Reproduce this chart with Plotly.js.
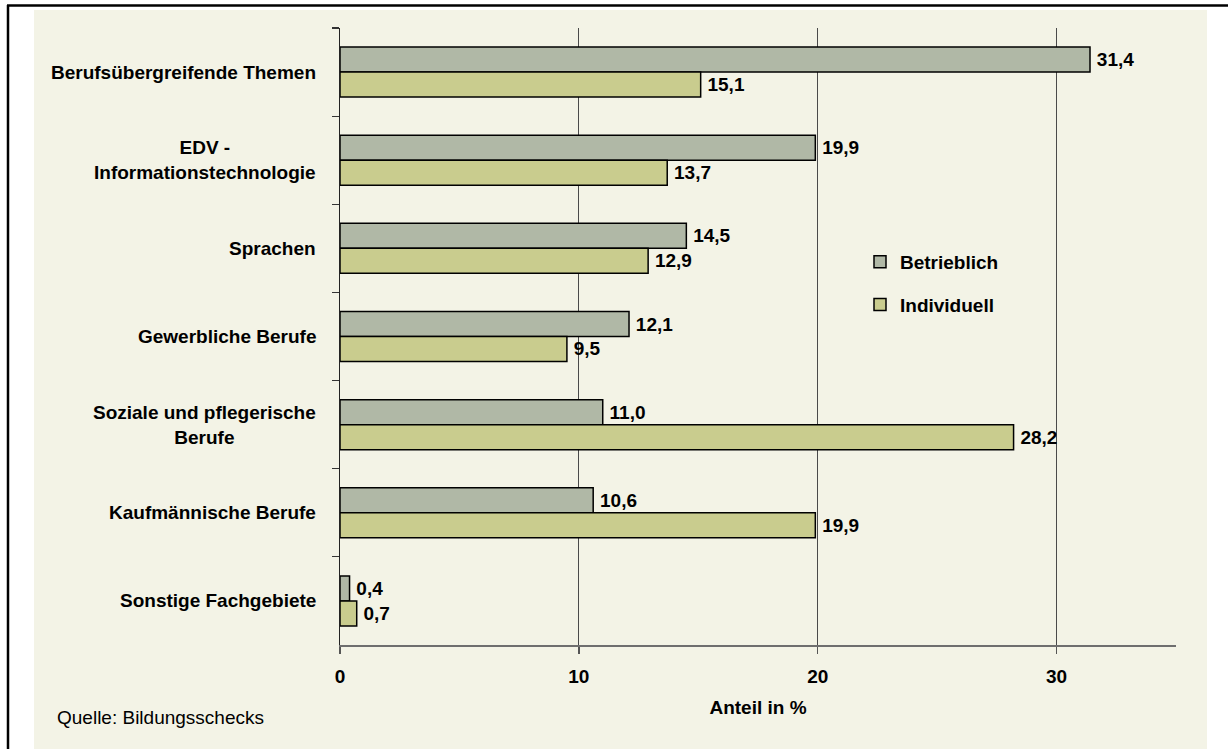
<!DOCTYPE html>
<html>
<head>
<meta charset="utf-8">
<script src="https://cdn.plot.ly/plotly-3.0.1.min.js"></script>
<style>html,body{margin:0;padding:0;background:#fff;}#chart{width:1228px;height:749px;}</style>
</head>
<body>
<div id="chart"></div>
<script>
const categories = [
  "Berufsübergreifende Themen",
  "EDV -<br>Informationstechnologie",
  "Sprachen",
  "Gewerbliche Berufe",
  "Soziale und pflegerische<br>Berufe",
  "Kaufmännische Berufe",
  "Sonstige Fachgebiete"
];
const betrieblich = [31.4, 19.9, 14.5, 12.1, 11.0, 10.6, 0.4];
const individuell = [15.1, 13.7, 12.9, 9.5, 28.2, 19.9, 0.7];
const xTicks = [0, 10, 20, 30];
const seriesNames = ["Betrieblich", "Individuell"];
const sourceText = "Quelle: Bildungsschecks";
const xTitle = "Anteil in %";

const FONT = "Liberation Sans, Arial, sans-serif";
const FS = 19;
const BG = "#F3F3E6";

function barTrace(name, values, color, group) {
  return {
    type: "bar",
    orientation: "h",
    name: name,
    legendgroup: group,
    y: categories,
    x: values,
    marker: {color: color, line: {color: "#000", width: 1.5}},
    text: values,
    texttemplate: "&#8201;%{x:.1f}",
    textposition: "outside",
    textfont: {family: FONT, size: FS, color: "#000", weight: "bold"},
    cliponaxis: false,
    hoverinfo: "x+y"
  };
}

const traces = [
  barTrace(seriesNames[0], betrieblich, "#B0B8A6", "a"),
  barTrace(seriesNames[1], individuell, "#C9CC8E", "b")
];

const px2x = p => (p - 340) / 836;
const px2y = p => (645 - p) / 617;

const annotations = categories.map(c => ({
  xref: "paper", yref: "y", x: 0, y: c,
  xanchor: "right", yanchor: "middle", xshift: -22,
  align: "center", showarrow: false, text: c,
  font: {family: FONT, size: FS, color: "#000", weight: "bold"}
}));
annotations.push({
  xref: "paper", yref: "paper", x: px2x(55), y: px2y(717),
  xanchor: "left", yanchor: "middle", showarrow: false, text: sourceText,
  font: {family: FONT, size: FS, color: "#000"}
});

const layout = {
  width: 1228, height: 749,
  margin: {l: 340, r: 52, t: 28, b: 104, autoexpand: false},
  paper_bgcolor: "#ffffff",
  plot_bgcolor: "rgba(0,0,0,0)",
  separators: ",.",
  barmode: "group",
  bargap: 0.433,
  bargroupgap: 0,
  font: {family: FONT, size: FS, color: "#000"},
  xaxis: {
    range: [0, 35],
    tickvals: xTicks,
    ticktext: xTicks.map(String),
    ticks: "outside", ticklen: 7, tickwidth: 1.5, tickcolor: "#555",
    ticklabelstandoff: 6,
    tickfont: {family: FONT, size: FS, color: "#000", weight: "bold"},
    showgrid: true, gridcolor: "#4a4a4a", gridwidth: 1.2,
    zeroline: false,
    showline: true, linecolor: "#6e6e6e", linewidth: 2,
    title: {text: xTitle, standoff: 15, font: {family: FONT, size: FS, color: "#000", weight: "bold"}},
    fixedrange: true
  },
  yaxis: {
    autorange: "reversed",
    type: "category",
    showticklabels: false,
    tickson: "boundaries",
    ticks: "outside", ticklen: 7, tickwidth: 1.2, tickcolor: "#333",
    showgrid: false, zeroline: false,
    showline: true, linecolor: "#222", linewidth: 1.2,
    fixedrange: true
  },
  legend: {
    x: px2x(860), y: px2y(243), xanchor: "left", yanchor: "top",
    bgcolor: "rgba(0,0,0,0)", borderwidth: 0,
    traceorder: "grouped", tracegroupgap: 15,
    font: {family: FONT, size: FS, color: "#000", weight: "bold"}
  },
  showlegend: true,
  annotations: annotations,
  shapes: [
    {type: "rect", xref: "paper", yref: "paper", layer: "below",
     x0: px2x(34), x1: px2x(1207), y0: px2y(760), y1: px2y(10),
     fillcolor: BG, line: {width: 0}},
    {type: "line", xref: "paper", yref: "paper", layer: "above",
     x0: px2x(8), x1: px2x(8), y0: px2y(760), y1: px2y(5), line: {color: "#000", width: 2.5}},
    {type: "line", xref: "paper", yref: "paper", layer: "above",
     x0: px2x(7), x1: px2x(1240), y0: px2y(5.5), y1: px2y(5.5), line: {color: "#000", width: 2.5}}
  ]
};

Plotly.newPlot("chart", traces, layout, {displayModeBar: false, staticPlot: true});
</script>
</body>
</html>
